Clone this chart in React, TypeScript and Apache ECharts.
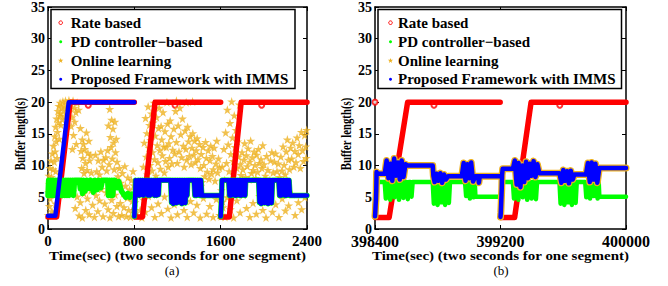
import React, { useEffect, useRef } from "react";
import * as echarts from "echarts";

// ---------- axes ----------
const yTicks = [0, 5, 10, 15, 20, 25, 30, 35];
const xTicksA = [0, 800, 1600, 2400];
const xTicksB = [398400, 399200, 400000];

const legendNames = ["Rate based", "PD controller\u2212based", "Online learning", "Proposed Framework with IMMS"];
const xTitle = "Time(sec) (two seconds for one segment)";
const yTitle = "Buffer length(s)";
const panelLabels = ["(a)", "(b)"];

// ---------- panel (a) ----------
const rateA1 = [[0, 1.9], [80, 1.9], [205, 20], [800, 20]];
const rateA2 = [[800, 3.2], [806, 1.9], [875, 1.9], [992, 20], [1600, 20]];
const rateA3 = [[1600, 1.9], [1680, 1.9], [1790, 20], [2400, 20]];
const rateOutA = [[373, 19.5], [1177, 19.5], [1980, 19.5]];

const propA1 = [[0, 2.1], [68, 2.1], [192, 20], [800, 20]];
const propA2 = [[800, 2], [803, 3.2], [806, 4.4], [809, 5.6], [812, 7.7], [816, 7.7],
  [826, 5.3], [836, 7.7], [846, 5.3], [856, 7.7], [866, 5.4], [876, 7.7], [886, 5.3], [896, 7.7], [906, 5.5], [916, 7.7],
  [926, 5.3], [936, 7.7], [946, 5.3], [956, 7.7], [966, 5.5], [976, 7.7], [986, 5.3], [996, 7.7], [1006, 5.3], [1016, 7.7],
  [1024, 5.4], [1030, 7.7], [1137, 7.7],
  [1145, 4.2], [1153, 7.7], [1161, 4.0], [1169, 7.7], [1177, 4.5], [1185, 7.7], [1193, 4.1], [1201, 7.7], [1209, 5.3], [1217, 7.7],
  [1225, 4.2], [1233, 7.7], [1241, 4.0], [1249, 7.7], [1257, 4.4], [1265, 7.7], [1273, 4.1], [1281, 7.7], [1289, 5.3], [1295, 7.7],
  [1353, 7.7], [1361, 5.3], [1369, 7.7], [1377, 5.3], [1385, 7.7], [1393, 5.4], [1401, 7.7], [1409, 5.3], [1417, 7.7], [1425, 5.3],
  [1432, 5.3], [1598, 5.3]];
const propA3 = [[1600, 2], [1603, 3.1], [1606, 4.2], [1609, 5.5], [1612, 7.7], [1674, 7.7],
  [1682, 5.3], [1690, 7.7], [1698, 5.3], [1706, 7.7], [1714, 5.4], [1722, 7.7], [1730, 5.3], [1738, 7.7], [1746, 5.3], [1754, 7.7],
  [1762, 5.5], [1770, 7.7], [1778, 5.3], [1786, 7.7], [1794, 5.3], [1802, 7.7], [1810, 5.4], [1818, 7.7], [1826, 5.3], [1832, 7.7],
  [1952, 7.7], [1960, 4.2], [1968, 7.7], [1976, 4.0], [1984, 7.7], [1992, 4.4], [2000, 7.7], [2008, 4.1], [2016, 7.7], [2024, 5.3],
  [2032, 7.7], [2040, 4.0], [2048, 7.7], [2056, 4.3], [2064, 7.7], [2072, 4.1], [2080, 7.7],
  [2138, 7.7], [2146, 5.3], [2154, 7.7], [2162, 5.3], [2170, 7.7], [2178, 5.4], [2186, 7.7], [2194, 5.3], [2202, 7.7], [2210, 5.3],
  [2218, 7.7], [2226, 5.4], [2234, 7.7], [2242, 5.3], [2248, 5.3], [2400, 5.3]];

const pdA1 = [[0, 5.3], [6, 7.7], [16, 5.3], [26, 7.7], [36, 5.3], [46, 7.7], [56, 5.3], [66, 7.7], [76, 5.3], [86, 7.7], [96, 5.3],
  [106, 7.7], [116, 5.3], [126, 7.7], [136, 5.3], [146, 7.7], [156, 5.3], [166, 7.7], [176, 5.3], [186, 7.7], [196, 5.3], [206, 7.7],
  [216, 5.5], [226, 7.7], [236, 5.3], [246, 7.7], [290, 7.7], [300, 6.3], [310, 7.7], [320, 5.6], [330, 7.7], [345, 6.0], [360, 7.7],
  [380, 6.4], [395, 7.7], [420, 5.8], [435, 7.7], [455, 6.2], [470, 7.7], [490, 6.5], [505, 7.7], [553, 7.7], [560, 5.3], [570, 7.7],
  [580, 5.3], [590, 7.7], [600, 5.3], [610, 7.7], [620, 7.7], [640, 6.5], [655, 7.5], [680, 6.0], [700, 5.5], [720, 5.0], [740, 5.6],
  [760, 5.0], [780, 5.5], [798, 5.3]];
const pdA2 = propA2;
const pdA3 = propA3;

const onlineA = [
  [2, 2.2], [6, 5.8], [8, 8.4], [12, 3.6], [14, 7.1], [18, 9.6], [22, 4.8], [24, 6.5], [28, 10.8], [32, 8.2], [36, 2.8], [40, 11.9],
  [42, 6.2], [46, 9.4], [50, 13.1], [54, 7.5], [58, 10.6], [62, 14.6], [66, 12.2], [70, 16.1], [72, 9.1], [76, 13.8], [80, 17.4],
  [84, 11.2], [88, 15.3], [92, 18.6], [96, 16.8], [100, 19.4], [104, 14.2], [108, 17.9], [112, 19.9], [116, 18.2], [120, 16.4],
  [126, 19.2], [132, 17.3], [138, 20.1], [144, 18.7], [150, 19.5], [156, 17.8], [162, 20.2], [170, 19.0], [178, 18.1], [186, 19.7],
  [194, 20.3], [202, 18.9], [212, 19.8], [222, 17.6], [232, 20.2], [244, 19.1], [258, 18.4], [270, 19.9], [284, 18.8],
  [215, 16.2], [236, 14.8], [248, 16.9], [262, 13.4], [226, 12.6], [60, 6.7], [110, 5.4], [150, 6.3], [190, 7.1], [230, 5.9],
  [45, 2.4], [70, 4.0],
  [300, 15.9], [306, 12.3], [312, 9.6], [318, 14.1], [322, 11.2], [328, 13.4], [334, 8.8], [340, 12.6], [348, 10.4], [356, 15.2],
  [362, 9.3], [370, 12.0], [378, 13.9], [386, 10.8], [394, 11.6], [402, 8.9],
  [440, 11.7], [452, 9.1], [466, 10.8], [478, 8.6], [490, 12.2], [502, 9.8], [514, 10.9],
  [552, 12.4], [560, 16.3], [566, 10.2], [572, 18.9], [578, 14.5], [584, 12.9], [590, 17.2], [596, 11.1], [602, 15.8], [608, 13.6],
  [614, 9.4], [620, 16.9], [626, 12.1], [632, 14.2], [640, 10.6], [648, 8.3], [536, 11.3], [544, 9.2],
  [662, 9.6], [670, 4.1], [676, 7.3], [684, 2.2], [690, 8.8], [698, 5.6], [704, 3.4], [712, 9.9], [718, 6.8], [726, 2.0], [734, 4.9],
  [740, 8.1], [748, 3.0], [756, 6.2], [764, 1.9], [772, 7.7], [780, 4.4], [788, 9.1], [796, 2.6], [794, 6.9],
  [252, 3.3], [270, 5.1], [288, 2.1], [300, 4.2], [318, 1.8], [334, 5.6], [350, 3.0], [366, 4.8], [382, 2.3], [398, 6.1], [414, 3.8],
  [430, 1.9], [446, 5.3], [462, 2.8], [478, 4.5], [494, 6.3], [510, 2.0], [526, 4.0], [542, 5.8], [558, 3.1], [574, 1.8], [590, 4.6],
  [606, 2.5], [622, 5.4], [638, 3.6], [654, 2.0],
  [884, 9.8], [892, 13.6], [898, 7.2], [904, 17.5], [910, 11.4], [916, 15.1], [922, 8.6], [928, 19.3], [934, 12.8], [940, 16.4],
  [946, 10.1], [952, 14.0], [958, 18.2], [964, 9.2], [970, 12.1], [976, 16.8], [982, 19.9], [988, 11.0], [994, 14.7], [1000, 8.4],
  [1006, 17.6], [1012, 13.2], [1018, 10.5], [1024, 15.9], [1030, 19.1], [1036, 12.4], [1042, 9.5], [1048, 16.2], [1054, 14.1],
  [1060, 11.6], [1066, 18.4], [1072, 13.0], [1078, 8.9], [1084, 15.4], [1090, 10.7], [1096, 12.9], [1102, 20.0], [1108, 16.6],
  [1114, 9.8], [1120, 13.5], [1126, 11.2], [1132, 17.1], [1140, 14.6], [1148, 10.3], [1156, 12.5],
  [1166, 15.8], [1174, 11.9], [1182, 18.6], [1190, 13.7], [1198, 10.4], [1206, 16.3], [1214, 12.2], [1222, 19.1], [1230, 14.9],
  [1238, 11.3], [1246, 17.4], [1254, 13.1], [1262, 9.8], [1270, 15.5], [1278, 12.6], [1286, 10.9], [1294, 16.1], [1302, 13.8],
  [1310, 11.5], [1318, 14.6], [1326, 10.2], [1334, 12.8], [1342, 15.1], [1350, 11.7], [1358, 13.9], [1366, 10.5], [1374, 12.4],
  [1382, 14.3], [1390, 11.0], [1280, 20.0], [1340, 20.1], [1190, 20.2],
  [1404, 13.4], [1412, 9.6], [1420, 11.8], [1428, 7.4], [1436, 12.9], [1444, 10.1], [1452, 8.3], [1460, 13.7], [1468, 11.2],
  [1476, 9.0], [1484, 12.4], [1492, 7.9], [1500, 10.8], [1508, 13.1], [1516, 8.7], [1524, 11.5], [1532, 9.4], [1540, 12.8],
  [1548, 7.6], [1556, 10.3], [1564, 13.9], [1572, 8.9], [1580, 11.1], [1588, 9.7],
  [806, 4.2], [822, 2.1], [838, 5.6], [854, 3.0], [870, 1.8], [886, 4.6], [902, 2.7], [930, 5.2], [960, 3.4], [990, 1.9], [1020, 4.0],
  [1050, 2.5], [1080, 5.1], [1110, 3.2], [1140, 1.8], [1170, 3.9], [1200, 2.3], [1230, 5.3], [1260, 3.0], [1290, 1.9], [1320, 4.4],
  [1350, 2.6], [1380, 3.8], [1410, 1.8], [1440, 4.9], [1470, 2.4], [1500, 3.6], [1530, 1.9], [1560, 4.7], [1590, 2.2],
  [1606, 6.1], [1614, 9.8], [1622, 3.4], [1630, 12.6], [1638, 7.7], [1646, 15.2], [1654, 10.4], [1662, 18.8], [1670, 13.3],
  [1678, 9.1], [1686, 16.7], [1694, 11.8], [1702, 20.1], [1710, 14.4], [1718, 10.7], [1726, 17.9], [1734, 12.9], [1742, 15.6],
  [1750, 9.6], [1758, 13.8], [1766, 11.4], [1774, 19.6], [1782, 10.2], [1790, 8.5],
  [1798, 12.1], [1806, 9.4], [1814, 10.9], [1822, 13.5], [1830, 8.2], [1838, 11.6], [1846, 9.9], [1854, 12.7], [1862, 7.8],
  [1870, 10.6], [1878, 13.9], [1886, 8.8], [1894, 11.3], [1902, 9.3], [1910, 12.2], [1918, 10.1], [1926, 8.0], [1934, 11.7],
  [1942, 9.0], [1950, 12.6], [1958, 10.4], [1966, 7.5], [1974, 11.0], [1982, 9.6], [1990, 13.2],
  [2002, 10.2], [2014, 8.4], [2026, 11.5], [2038, 9.3], [2050, 7.7], [2062, 10.8], [2074, 12.1], [2086, 8.9], [2098, 10.6],
  [2110, 11.9], [2122, 9.1], [2134, 10.3], [2146, 8.2],
  [2158, 11.4], [2168, 9.2], [2178, 13.0], [2188, 10.1], [2198, 8.6], [2208, 12.2], [2218, 14.1], [2228, 10.9], [2238, 9.4],
  [2248, 12.8], [2258, 11.1], [2268, 13.6], [2278, 9.8], [2288, 12.3], [2298, 10.5], [2308, 14.4], [2318, 11.8], [2328, 13.2],
  [2338, 9.6], [2348, 15.3], [2358, 12.4], [2368, 10.7], [2378, 14.8], [2388, 13.0], [2396, 15.6], [2392, 11.2],
  [1604, 2.0], [1620, 4.3], [1640, 1.9], [1660, 5.0], [1690, 3.1], [1720, 1.8], [1750, 4.5], [1780, 2.6], [1810, 5.4], [1840, 3.3],
  [1870, 1.9], [1900, 4.1], [1930, 2.4], [1960, 5.2], [1990, 3.0], [2020, 1.8], [2050, 4.6], [2080, 2.7], [2110, 3.9], [2140, 1.9],
  [2170, 4.8], [2200, 2.9], [2230, 3.7], [2260, 5.5], [2290, 2.2], [2320, 4.2], [2350, 3.1], [2380, 5.0]
];

// ---------- panel (b) ----------
const rateB1 = [[398402, 1.8], [398490, 1.8], [398608, 20], [399198, 20]];
const rateB2 = [[399200, 1.8], [399290, 1.8], [399395, 20], [400000, 20]];
const rateOutB = [[398400, 20], [398776, 19.5], [399578, 19.5]];

const propB1 = [[398400, 2], [398402, 2.7], [398404, 3.8], [398406, 4.6], [398408, 6.0], [398410, 9.0], [398416, 8.7], [398462, 8.7],
  [398474, 10.8], [398486, 8.0], [398498, 10.3], [398510, 7.6], [398522, 11.1], [398534, 8.4], [398546, 10.5], [398558, 7.8],
  [398570, 10.8], [398582, 8.2], [398594, 10.2], [398608, 10.0], [398768, 10.0], [398772, 8.4], [398780, 7.4], [398792, 8.7],
  [398804, 7.6], [398816, 8.8], [398828, 7.3], [398840, 8.6], [398852, 7.8], [398866, 8.3], [398953, 8.3], [398965, 10.4],
  [398977, 7.6], [398989, 10.2], [399001, 8.0], [399013, 10.5], [399025, 7.5], [399040, 8.3], [399058, 8.3], [399062, 7.3],
  [399068, 8.3], [399198, 8.3]];
const propB2 = [[399200, 1.9], [399202, 2.6], [399204, 3.8], [399206, 5.1], [399208, 6.4], [399210, 8.5], [399214, 9.5], [399279, 9.5],
  [399291, 10.8], [399303, 7.0], [399315, 10.4], [399327, 6.6], [399339, 10.0], [399351, 7.4], [399363, 10.6], [399375, 8.0],
  [399387, 10.3], [399399, 8.4], [399411, 10.7], [399423, 8.2], [399435, 10.2], [399448, 8.8], [399576, 8.8], [399588, 7.3],
  [399600, 9.3], [399612, 7.6], [399624, 9.1], [399636, 7.2], [399648, 9.2], [399660, 7.8], [399671, 8.6], [399745, 8.6],
  [399757, 10.4], [399769, 7.4], [399781, 10.5], [399793, 7.8], [399805, 10.3], [399817, 7.3], [399830, 9.6], [400000, 9.6]];
const onlineB1 = propB1;
const onlineB2 = propB2;

const pdB1 = [[398400, 1.9], [398402, 2.8], [398404, 3.6], [398406, 4.5], [398408, 5.5], [398410, 6.2], [398414, 7.4], [398462, 7.4],
  [398469, 4.8], [398476, 7.4], [398490, 7.4], [398497, 4.6], [398504, 7.4], [398518, 7.4], [398525, 5.0], [398532, 7.4],
  [398546, 7.4], [398553, 4.6], [398560, 7.4], [398574, 7.4], [398581, 4.9], [398588, 7.4], [398602, 7.4], [398609, 4.7],
  [398616, 7.4], [398626, 7.4], [398633, 5.1], [398640, 7.4], [398768, 7.4],
  [398775, 4.0], [398782, 7.4], [398792, 7.4], [398799, 3.8], [398806, 7.4], [398816, 7.4], [398823, 4.2], [398830, 7.4],
  [398840, 7.4], [398847, 3.8], [398854, 7.4], [398864, 7.4], [398871, 4.1], [398878, 7.4], [398887, 7.4], [398974, 7.4],
  [398981, 5.2], [398988, 7.4], [398998, 7.4], [399005, 4.8], [399012, 7.4], [399022, 7.4], [399029, 5.0], [399036, 7.4],
  [399040, 5.1], [399198, 5.1]];
const pdB2 = [[399200, 1.9], [399202, 2.8], [399204, 3.8], [399206, 4.8], [399208, 6.0], [399210, 6.8], [399214, 7.4], [399279, 7.4],
  [399286, 4.8], [399293, 7.4], [399307, 7.4], [399314, 4.6], [399321, 7.4], [399335, 7.4], [399342, 5.0], [399349, 7.4],
  [399363, 7.4], [399370, 4.6], [399377, 7.4], [399391, 7.4], [399398, 4.8], [399405, 7.4], [399419, 7.4], [399426, 4.7],
  [399433, 7.4], [399448, 7.4], [399576, 7.4],
  [399583, 4.0], [399590, 7.4], [399600, 7.4], [399607, 3.8], [399614, 7.4], [399624, 7.4], [399631, 4.2], [399638, 7.4],
  [399648, 7.4], [399655, 3.8], [399662, 7.4], [399672, 7.4], [399679, 4.1], [399686, 7.4], [399740, 7.4],
  [399747, 5.0], [399754, 7.4], [399764, 7.4], [399771, 4.8], [399778, 7.4], [399788, 7.4], [399795, 5.2], [399802, 7.4],
  [399812, 7.4], [399819, 4.8], [399826, 7.4], [399830, 5.1], [400000, 5.1]];

// ---------- styles ----------
const RED = "#FF0000";
const GREEN = "#00FF00";
const ORANGE = "#EDB120";
const BLUE = "#0000FF";
const FONT = '"Liberation Serif", "Times New Roman", serif';
const STAR = "path://M0,-10L2.245,-3.09L9.51,-3.09L3.633,1.18L5.88,8.09L0,3.82L-5.88,8.09L-3.633,1.18L-9.51,-3.09L-2.245,-3.09Z";

function line(data: number[][], color: string, width: number, gi: number) {
  return {
    type: "line", xAxisIndex: gi * 2, yAxisIndex: gi * 2, data, symbol: "none", silent: true,
    lineStyle: { color, width, join: "round", cap: "round" },
  };
}

function makeAxes(gi: number, min: number, max: number, interval: number, isX: boolean, labelSize: number) {
  const base = {
    type: "value", gridIndex: gi, min, max, interval,
    splitLine: { show: false },
    axisLine: { show: true, onZero: false, lineStyle: { color: "#000", width: 1.5 } },
    axisTick: { show: true, inside: true, length: 4, lineStyle: { color: "#000", width: 1 } },
  };
  return [
    {
      ...base, position: isX ? "bottom" : "left",
      axisLabel: {
        show: true, color: "#000", fontFamily: FONT, fontWeight: "bold", fontSize: labelSize,
        lineHeight: isX ? 12 : 10, margin: isX ? 6 : 3,
        formatter: (v: number) => String(v),
      },
    },
    { ...base, position: isX ? "top" : "right", axisLabel: { show: false } },
  ];
}

function legendGraphic(x0: number, w: number, markerX: number, textX: number) {
  const rows = [22.7, 41.7, 60.7, 79.3];
  const els: any[] = [
    { type: "rect", shape: { x: x0, y: 9.5, width: w, height: 79 }, style: { fill: "#fff", stroke: "#000", lineWidth: 1.5 }, z: 100 },
  ];
  legendNames.forEach((name, i) => {
    els.push({
      type: "text", x: textX, y: rows[i], z: 101,
      style: { text: name, fill: "#000", font: `bold 15px ${FONT}`, align: "left", verticalAlign: "middle" },
    });
  });
  els.push({ type: "circle", shape: { cx: markerX, cy: rows[0], r: 1.8 }, style: { fill: "none", stroke: RED, lineWidth: 1 }, z: 101 });
  els.push({ type: "circle", shape: { cx: markerX, cy: rows[1], r: 1.5 }, style: { fill: GREEN }, z: 101 });
  const sp = [[0, -10], [2.245, -3.09], [9.51, -3.09], [3.633, 1.18], [5.88, 8.09], [0, 3.82], [-5.88, 8.09], [-3.633, 1.18], [-9.51, -3.09], [-2.245, -3.09]];
  els.push({ type: "polygon", shape: { points: sp.map((p) => [markerX + p[0] * 0.28, rows[2] + p[1] * 0.28]) }, style: { fill: ORANGE }, z: 101 });
  els.push({ type: "circle", shape: { cx: markerX, cy: rows[3], r: 1.5 }, style: { fill: BLUE }, z: 101 });
  return els;
}

function titleText(x: number, text: string) {
  return {
    type: "text", x, y: 255.5, scaleY: 0.82,
    style: { text, fill: "#000", font: `bold 15px ${FONT}`, lineHeight: 14, align: "center", verticalAlign: "middle" },
  };
}

function yTitleText(x: number) {
  return {
    type: "text", x, y: 134, rotation: Math.PI / 2, scaleX: 0.72,
    style: { text: yTitle, fill: "#000", font: `bold 15px ${FONT}`, align: "center", verticalAlign: "middle" },
  };
}

function buildOption() {
  const xa = makeAxes(0, xTicksA[0], xTicksA[xTicksA.length - 1], xTicksA[1] - xTicksA[0], true, 15);
  const xb = makeAxes(1, xTicksB[0], xTicksB[xTicksB.length - 1], xTicksB[1] - xTicksB[0], true, 16);
  const ya = makeAxes(0, yTicks[0], yTicks[yTicks.length - 1], yTicks[1] - yTicks[0], false, 14);
  const yb = makeAxes(1, yTicks[0], yTicks[yTicks.length - 1], yTicks[1] - yTicks[0], false, 14);

  const series: any[] = [];
  // panel a
  [rateA1, rateA2, rateA3].forEach((d) => series.push(line(d, RED, 5.5, 0)));
  series.push({ type: "scatter", xAxisIndex: 0, yAxisIndex: 0, data: rateOutA, symbol: "emptyCircle", symbolSize: 5, itemStyle: { color: RED, borderColor: RED, borderWidth: 1 }, silent: true });
  [pdA1, pdA2, pdA3].forEach((d) => series.push(line(d, GREEN, 5.5, 0)));
  series.push({ type: "scatter", xAxisIndex: 0, yAxisIndex: 0, data: onlineA, symbol: STAR, symbolSize: 9, itemStyle: { color: ORANGE }, silent: true });
  [propA1, propA2, propA3].forEach((d) => series.push(line(d, BLUE, 4.5, 0)));
  // panel b
  [rateB1, rateB2].forEach((d) => series.push(line(d, RED, 5.5, 1)));
  series.push({ type: "scatter", xAxisIndex: 2, yAxisIndex: 2, data: rateOutB, symbol: "emptyCircle", symbolSize: 5, itemStyle: { color: RED, borderColor: RED, borderWidth: 1 }, silent: true });
  [pdB1, pdB2].forEach((d) => series.push(line(d, GREEN, 4.5, 1)));
  [onlineB1, onlineB2].forEach((d) => series.push(line(d, ORANGE, 7, 1)));
  [propB1, propB2].forEach((d) => series.push(line(d, BLUE, 4.5, 1)));

  const graphic: any[] = [
    ...legendGraphic(51, 244, 60.7, 70.7),
    ...legendGraphic(378, 243.5, 390.5, 398),
    titleText(177.5, xTitle),
    titleText(500.5, xTitle),
    yTitleText(19.5),
    yTitleText(346),
    { type: "text", x: 172, y: 270, style: { text: panelLabels[0], fill: "#000", font: `13px ${FONT}`, lineHeight: 13, align: "center", verticalAlign: "middle" } },
    { type: "text", x: 501, y: 270, style: { text: panelLabels[1], fill: "#000", font: `13px ${FONT}`, lineHeight: 13, align: "center", verticalAlign: "middle" } },
  ];

  return {
    animation: false,
    backgroundColor: "#fff",
    grid: [
      { left: 48, top: 5, width: 259, height: 224, show: false },
      { left: 375, top: 5, width: 251, height: 224, show: false },
    ],
    xAxis: [...xa, ...xb],
    yAxis: [...ya, ...yb],
    series,
    graphic,
  };
}

export default function App() {
  const ref = useRef<HTMLDivElement>(null);
  useEffect(() => {
    document.body.style.margin = "0";
    if (!ref.current) return;
    const chart = echarts.init(ref.current, null, { renderer: "svg" });
    chart.setOption(buildOption() as any);
    return () => chart.dispose();
  }, []);
  return <div ref={ref} style={{ position: "fixed", left: 0, top: 0, width: 668, height: 286 }} />;
}
